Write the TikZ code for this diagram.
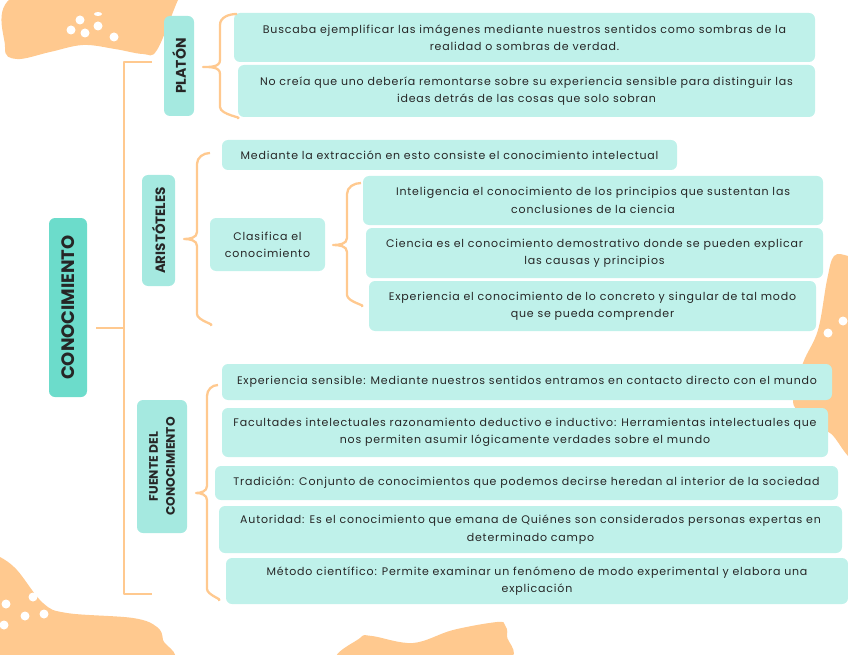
\documentclass[tikz,border=0pt]{standalone}
\usepackage{fontspec}
\setmainfont{Poppins}[LetterSpace=7.5]
\newfontfamily\headfont{Poppins}
\usepackage{tikz}
\usetikzlibrary{calc}

\definecolor{blob}{HTML}{FFC98F}
\definecolor{rootfill}{HTML}{6CDCCB}
\definecolor{midfill}{HTML}{A5E9E0}
\definecolor{leaffill}{HTML}{BFF1EA}

\tikzset{
  box/.style={rounded corners=6pt,inner sep=0pt,align=center,text=black!85},
  leaf/.style={box,fill=leaffill,font=\fontsize{11}{17.3}\selectfont},
  mid/.style={box,fill=midfill,rotate=90,font=\fontsize{13.5}{17}\selectfont\headfont\bfseries},
  root/.style={box,fill=rootfill,rotate=90,font=\fontsize{18}{20}\selectfont\headfont\bfseries},
  link/.style={draw=blob,line width=2.3pt,line join=round},
  dot/.style={fill=white,circle,minimum size=9pt,inner sep=0pt}
}

% tip, upper end, lower end
\newcommand{\bracelink}[3]{
  \coordinate (spine) at ($(#1)!0.5!(#2 |- #1)$);
  \draw[link] (#2) to[out=180,in=90] ($(spine |- #2)+(0,11)$) -- ($(spine)+(0,-7)$)
     to[out=-90,in=0] (#1) to[out=0,in=90] ($(spine)+(0,7)$)
     -- ($(spine |- #3)+(0,-11)$) to[out=-90,in=0] (#3);
}

\begin{document}
\begin{tikzpicture}[x=1pt,y=-1pt]
  \useasboundingbox (0,0) rectangle (848,655);

  % background blobs
  \fill[blob] plot[smooth cycle,tension=0.6] coordinates {(20,-6) (5,47) (17,59) (50,52) (83,45) (115,49) (143,54) (157,50) (178,0) (185,-8)};
  \fill[blob] plot[smooth cycle,tension=0.6] coordinates {(-10,555) (0,557) (17,570) (43,603) (67,613) (133,618) (157,627) (163,640) (162,662) (-10,662)};
  \fill[blob] plot[smooth cycle,tension=0.6] coordinates {(834,256) (848,256) (858,262) (858,448) (830,433) (803,415) (793,400) (803,363) (818,330) (827,280)};
  \fill[blob] plot[smooth cycle,tension=0.6] coordinates {(344,662) (360,638) (372,636) (413,643) (453,630) (497,622) (505,625) (507,636) (500,662)};

  \node[dot] (d1) at (80,20) {};
  \node[dot] (d2) at (98,26) {};
  \node[dot] (d3) at (71,30) {};
  \node[dot] (d4) at (85,33) {};
  \node[dot] (d5) at (114,37) {};
  \fill[white] (98,14) ellipse (4 and 2);
  \node[dot] (d6) at (6,604) {};
  \node[dot] (d7) at (33,597) {};
  \node[dot] (d8) at (25,616) {};
  \node[dot] (d9) at (44,614) {};
  \node[dot] (d10) at (4,625) {};
  \node[dot] (d11) at (828,333) {};
  \node[dot] (d12) at (843,321) {};

  % left column
  \node[root,minimum width=179pt,minimum height=38pt] (conocimiento) at (68,307.5) {CONOCIMIENTO};
  \node[mid,minimum width=100pt,minimum height=30pt,font=\fontsize{14}{17}\selectfont\headfont\bfseries]  (platon) at (179,66) {PLATÓN};
  \node[mid,minimum width=111pt,minimum height=33pt]  (aristoteles)  at (158.5,230.5) {ARISTÓTELES};
  \node[mid,minimum width=133pt,minimum height=50pt,font=\fontsize{12.3}{17}\selectfont\headfont\bfseries] (fuente) at (162,466.5) {FUENTE DEL\\CONOCIMIENTO};

  % Platon
  \node[leaf,minimum width=581pt,minimum height=49pt] (buscaba)  at (524.5,37.5) {Buscaba ejemplificar las imágenes mediante nuestros sentidos como sombras de la\\realidad o sombras de verdad.};
  \node[leaf,minimum width=577pt,minimum height=52pt] (nocreia)  at (526.5,91)   {No creía que uno debería remontarse sobre su experiencia sensible para distinguir las\\ideas detrás de las cosas que solo sobran};

  % Aristoteles
  \node[leaf,minimum width=455pt,minimum height=30pt] (mediante)    at (449.5,155)   {Mediante la extracción en esto consiste el conocimiento intelectual};
  \node[leaf,minimum width=115pt,minimum height=53pt] (clasifica)   at (267.5,244.5) {Clasifica el\\conocimiento};
  \node[leaf,minimum width=460pt,minimum height=49pt] (inteligencia) at (593,200.5)  {Inteligencia el conocimiento de los principios que sustentan las\\conclusiones de la ciencia};
  \node[leaf,minimum width=457pt,minimum height=50pt] (ciencia)     at (594.5,253)   {Ciencia es el conocimiento demostrativo donde se pueden explicar\\las causas y principios};
  \node[leaf,minimum width=447pt,minimum height=50pt] (experiencia) at (592.5,306)   {Experiencia el conocimiento de lo concreto y singular de tal modo\\que se pueda comprender};

  % Fuente
  \node[leaf,minimum width=610pt,minimum height=36pt] (sensible)   at (527,382)   {Experiencia sensible: Mediante nuestros sentidos entramos en contacto directo con el mundo};
  \node[leaf,minimum width=606pt,minimum height=49pt] (facultades) at (525,432.5) {Facultades intelectuales razonamiento deductivo e inductivo: Herramientas intelectuales que\\nos permiten asumir lógicamente verdades sobre el mundo};
  \node[leaf,minimum width=623pt,minimum height=34pt] (tradicion)  at (526.5,483) {Tradición: Conjunto de conocimientos que podemos decirse heredan al interior de la sociedad};
  \node[leaf,minimum width=623pt,minimum height=47pt] (autoridad)  at (530.5,529.5) {Autoridad: Es el conocimiento que emana de Quiénes son considerados personas expertas en\\determinado campo};
  \node[leaf,minimum width=622pt,minimum height=46pt] (metodo)     at (537,581)   {Método científico: Permite examinar un fenómeno de modo experimental y elabora una\\explicación};

  % connectors
  \coordinate (trunkA) at (124,62);
  \coordinate (tickA)  at (152,62);
  \coordinate (trunkB) at (124,594);
  \coordinate (tickB)  at (152,594);
  \draw[link] (tickA) -- (trunkA) -- (trunkB) -- (tickB);
  \draw[link,shorten <=9pt] (conocimiento.south |- 0,328) -- (trunkA |- 0,328);

  \coordinate (tipP) at (203,67);  \coordinate (topP) at (237,14);  \coordinate (botP) at (237,118);
  \coordinate (tipA) at (184,239); \coordinate (topA) at (210,153); \coordinate (botA) at (210,325);
  \coordinate (tipC) at (333,245); \coordinate (topC) at (361,183); \coordinate (botC) at (361,306);
  \coordinate (tipF) at (196,493); \coordinate (topF) at (218,385); \coordinate (botF) at (218,600);
  \bracelink{tipP}{topP}{botP}
  \bracelink{tipA}{topA}{botA}
  \bracelink{tipC}{topC}{botC}
  \bracelink{tipF}{topF}{botF}
\end{tikzpicture}
\end{document}
